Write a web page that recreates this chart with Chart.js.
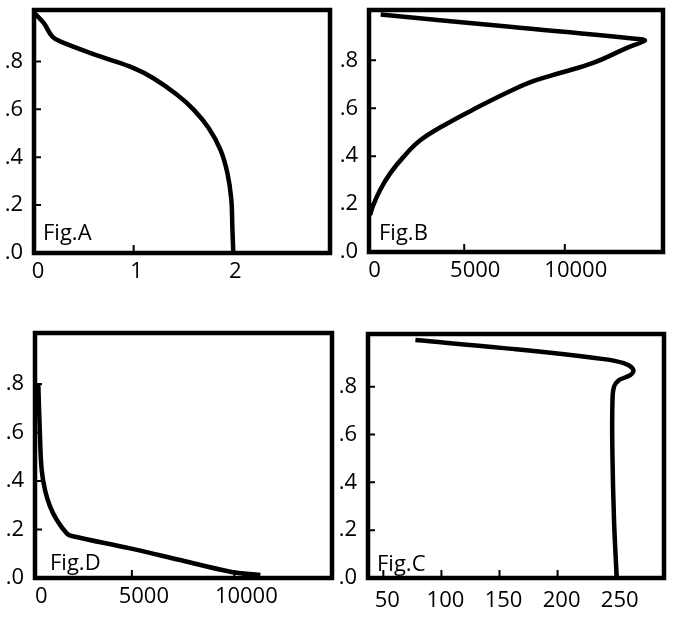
<!DOCTYPE html>
<html>
<head>
<meta charset="utf-8">
<script src="https://cdn.jsdelivr.net/npm/chart.js@4/dist/chart.umd.min.js"></script>
<style>
  body { margin: 0; background: #fff; width: 674px; height: 620px; position: relative; overflow: hidden; }
  canvas { position: absolute; }
</style>
</head>
<body>
<canvas id="figA" width="337" height="300" style="left:0;top:0"></canvas>
<canvas id="figB" width="337" height="300" style="left:337px;top:0"></canvas>
<canvas id="figD" width="337" height="310" style="left:0;top:310px"></canvas>
<canvas id="figC" width="337" height="310" style="left:337px;top:310px"></canvas>
<script>
// y ticks shared by all four panels
const yTicks = [0, 0.2, 0.4, 0.6, 0.8];

// Fig.A
const figAX = [0.0, 0.09, 0.175, 0.26, 0.66, 1.0, 1.2, 1.44, 1.61, 1.76, 1.88, 1.95, 1.99, 2.0, 2.01];
const figAY = [1.0, 0.96, 0.904, 0.883, 0.821, 0.772, 0.73, 0.661, 0.598, 0.522, 0.431, 0.334, 0.223, 0.111, 0.0];
const figATicks = [0, 1, 2];

// Fig.B
const figBX = [849, 7269, 13800, 13972, 13063, 11405, 9752, 8426, 7269, 5616, 3957, 2800, 1971, 1311, 814, 482, 318];
const figBY = [0.991, 0.94, 0.888, 0.882, 0.851, 0.789, 0.747, 0.713, 0.671, 0.602, 0.527, 0.465, 0.396, 0.327, 0.258, 0.196, 0.154];
const figBTicks = [0, 5000, 10000];

// Fig.D
const figDX = [435, 518, 601, 762, 1007, 1329, 1823, 2067, 4917, 7361, 9804, 11271];
const figDY = [0.8, 0.582, 0.445, 0.363, 0.295, 0.24, 0.184, 0.173, 0.122, 0.074, 0.026, 0.012];
const figDTicks = [0, 5000, 10000];

// Fig.C
const figCX = [77.6, 153.8, 240, 257, 264.4, 264.4, 258.6, 252.9, 248.6, 247.2, 247.2, 248.6, 250.9];
const figCY = [0.995, 0.961, 0.915, 0.898, 0.877, 0.856, 0.839, 0.828, 0.8, 0.73, 0.52, 0.24, 0.0];
const figCTicks = [50, 100, 150, 200, 250];

const FONT = { family: '"Open Sans", sans-serif', size: 22 };

const framePlugin = {
    id: 'frame',
    afterDatasetsDraw(chart, args, opts) {
        const { ctx, chartArea: a, scales } = chart;
        ctx.save();
        ctx.strokeStyle = '#000';
        ctx.lineWidth = 2;
        ctx.beginPath();
        scales.x.ticks.forEach(t => {
            const px = scales.x.getPixelForValue(t.value);
            if (px < a.left + 4 || px > a.right - 4) return;
            ctx.moveTo(px, a.bottom);
            ctx.lineTo(px, a.bottom - 8);
        });
        scales.y.ticks.forEach(t => {
            const py = scales.y.getPixelForValue(t.value);
            ctx.moveTo(a.left - 2, py);
            ctx.lineTo(a.left + 7, py);
        });
        ctx.stroke();
        ctx.lineWidth = 4.5;
        ctx.strokeRect(a.left, a.top, a.width, a.height);
        ctx.fillStyle = '#000';
        ctx.font = FONT.size + 'px ' + FONT.family;
        ctx.textBaseline = 'alphabetic';
        ctx.fillText(opts.label, a.left + opts.dx, a.bottom - opts.dy);
        ctx.restore();
    }
};

function makePanel(id, xs, ys, p) {
    const points = xs.map((x, i) => ({ x: x, y: ys[i] }));
    new Chart(document.getElementById(id), {
        type: 'scatter',
        data: {
            datasets: [{
                data: points,
                showLine: true,
                borderColor: '#000',
                borderWidth: 4.5,
                pointRadius: 0,
                tension: 0.4,
                fill: false
            }]
        },
        options: {
            responsive: false,
            animation: false,
            layout: { padding: { top: p.top, right: p.right, left: 0, bottom: 0 } },
            plugins: {
                legend: { display: false },
                tooltip: { enabled: false },
                frame: { label: p.label, dx: p.dx, dy: p.dy }
            },
            scales: {
                x: {
                    type: 'linear',
                    min: p.xMin,
                    max: p.xMax,
                    afterFit: s => { s.height = p.xh; s.paddingLeft = 0; s.paddingRight = 0; },
                    afterBuildTicks: s => { s.ticks = p.xTickVals.map(v => ({ value: v })); },
                    grid: { display: false, drawTicks: false },
                    border: { display: false },
                    ticks: { autoSkip: false, maxRotation: 0, padding: p.xPad, labelOffset: p.lblOff,
                        color: '#000', font: FONT, callback: v => String(v) }
                },
                y: {
                    min: 0,
                    max: p.yMax,
                    afterFit: s => { s.width = p.yw; s.paddingTop = 0; s.paddingBottom = 0; },
                    afterBuildTicks: s => { s.ticks = yTicks.map(v => ({ value: v })); },
                    grid: { display: false, drawTicks: false },
                    border: { display: false },
                    ticks: { autoSkip: false, padding: 11, color: '#000', font: FONT,
                        callback: v => v.toFixed(1).replace('0.', '.') }
                }
            }
        },
        plugins: [framePlugin]
    });
}

makePanel('figA', figAX, figAY, { label: 'Fig.A', dx: 9, dy: 13, lblOff: 3, xPad: 6,
    xMin: -0.01, xMax: 2.99, yMax: 1.015, xTickVals: figATicks, yw: 34, top: 10, right: 7, xh: 47 });
makePanel('figB', figBX, figBY, { label: 'Fig.B', dx: 10, dy: 12, lblOff: 11, xPad: 6,
    xMin: 268, xMax: 14880, yMax: 1.01, xTickVals: figBTicks, yw: 32, top: 10, right: 11, xh: 48 });
makePanel('figD', figDX, figDY, { label: 'Fig.D', dx: 15, dy: 8, lblOff: 12, xPad: 6,
    xMin: 274, xMax: 14766, yMax: 1.01, xTickVals: figDTicks, yw: 35, top: 23, right: 5, xh: 42 });
makePanel('figC', figCX, figCY, { label: 'Fig.C', dx: 9, dy: 7, lblOff: 4, xPad: 10,
    xMin: 36.8, xMax: 291.6, yMax: 1.02, xTickVals: figCTicks, yw: 31, top: 24, right: 10, xh: 42 });
</script>
</body>
</html>
